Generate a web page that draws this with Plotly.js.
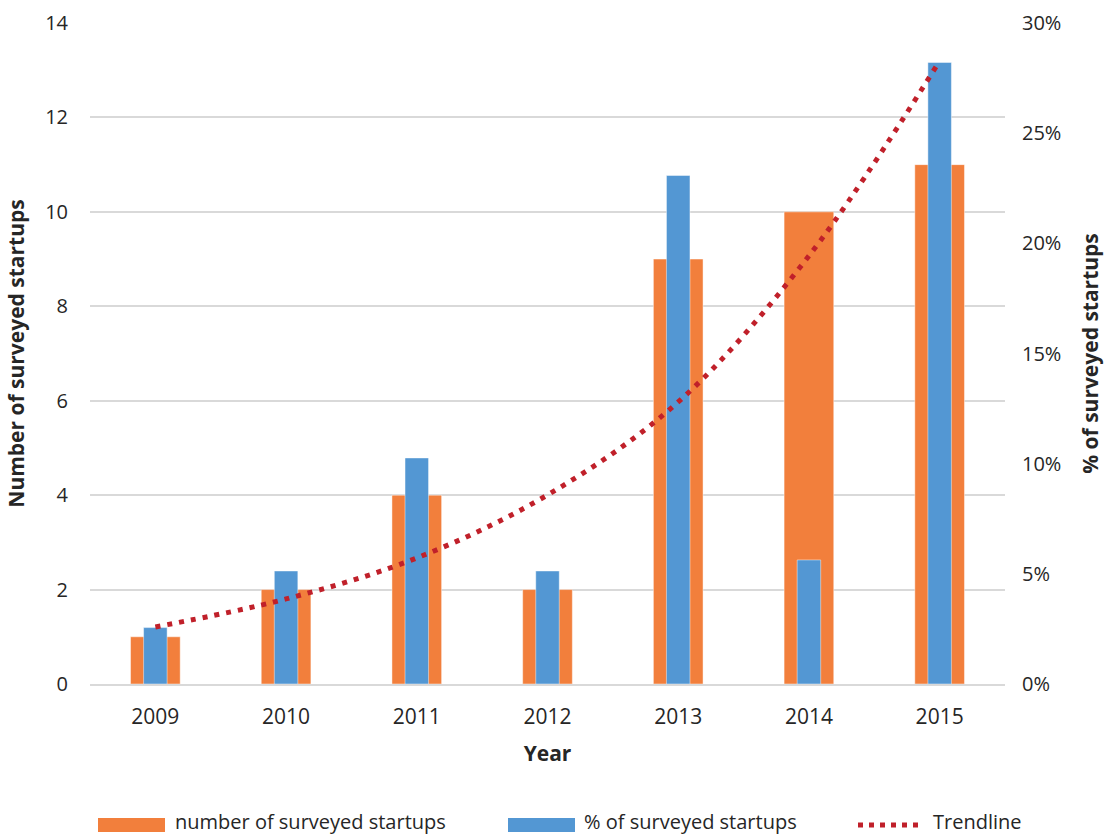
<!DOCTYPE html>
<html>
<head>
<meta charset="utf-8">
<script src="https://cdn.plot.ly/plotly-3.0.1.min.js"></script>
<style>html,body{margin:0;padding:0;background:#fff;}#chart{width:1108px;height:836px;}</style>
</head>
<body>
<div id="chart"></div>
<script>
// ---- data ----
const years = ["2009", "2010", "2011", "2012", "2013", "2014", "2015"];
const startupCounts = [1, 2, 4, 2, 9, 10, 11];
const startupShares = [2.56, 5.13, 10.26, 5.13, 23.08, 5.63, 28.21];   // percent
const trendShares = [2.59, 3.86, 5.72, 8.58, 12.8, 19.43, 28.28];      // percent
const leftTicks = [0, 2, 4, 6, 8, 10, 12, 14];
const rightTicks = [0, 5, 10, 15, 20, 25, 30];
const rightTickLabels = ["0%", "5%", "10%", "15%", "20%", "25%", "30%"];
const seriesNames = ["number of surveyed startups", "% of surveyed startups", "Trendline"];

// ---- styling ----
const ORANGE = "#F27F3C";
const BLUE = "#5397D3";
const RED = "#C0202A";
const GRID = "#D9D9D9";
const TXT = "#262626";
const FONT = "'Open Sans', 'Noto Sans', sans-serif";

const W = 1108, H = 836;
const M = {l: 90, r: 103, t: 23, b: 152};
const PW = W - M.l - M.r, PH = H - M.t - M.b;
const px = x => (x - M.l) / PW;
const py = y => (H - M.b - y) / PH;

const traces = [
  {
    type: "bar", x: years, y: startupCounts, name: seriesNames[0],
    width: 0.38, marker: {color: ORANGE, line: {color: "rgba(255,255,255,0.45)", width: 1}},
    xaxis: "x", yaxis: "y", showlegend: false, hoverinfo: "x+y"
  },
  {
    type: "bar", x: years, y: startupShares, name: seriesNames[1],
    width: 0.18, marker: {color: BLUE, line: {color: "rgba(255,255,255,0.45)", width: 1}},
    xaxis: "x", yaxis: "y2", showlegend: false, hoverinfo: "x+y"
  },
  {
    type: "scatter", mode: "lines", x: years, y: trendShares, name: seriesNames[2],
    line: {color: RED, width: 5, dash: "5px,7px", shape: "spline", smoothing: 1},
    xaxis: "x", yaxis: "y2", showlegend: false, hoverinfo: "skip"
  }
];

const legendY = 824;
const shapes = [
  {type: "rect", xref: "paper", yref: "paper", x0: px(98), x1: px(165), y0: py(832), y1: py(818),
   fillcolor: ORANGE, line: {width: 0}},
  {type: "rect", xref: "paper", yref: "paper", x0: px(508), x1: px(575), y0: py(832), y1: py(818),
   fillcolor: BLUE, line: {width: 0}},
  {type: "line", xref: "paper", yref: "paper", x0: px(858), x1: px(922), y0: py(legendY + 1), y1: py(legendY + 1),
   line: {color: RED, width: 5, dash: "5px,6px"}}
];
const annotations = [
  {text: seriesNames[0], x: px(173), xanchor: "left"},
  {text: seriesNames[1], x: px(582), xanchor: "left"},
  {text: seriesNames[2], x: px(931), xanchor: "left"}
].map(a => Object.assign(a, {xref: "paper", yref: "paper", y: py(legendY - 3), yanchor: "middle",
  showarrow: false, font: {family: FONT, size: 20, color: TXT}}));

const layout = {
  width: W, height: H,
  margin: M,
  paper_bgcolor: "#fff", plot_bgcolor: "#fff",
  barmode: "overlay",
  showlegend: false,
  font: {family: FONT, color: TXT},
  xaxis: {
    type: "category", range: [-0.5, 6.5],
    showgrid: false, zeroline: false,
    showline: true, linecolor: GRID, linewidth: 2,
    ticks: "", tickfont: {family: FONT, size: 21, color: TXT},
    ticklabelstandoff: 13,
    title: {text: "Year", font: {family: FONT, size: 21, color: TXT, weight: "bold"}, standoff: 17}
  },
  yaxis: {
    range: [0, 14], tickvals: leftTicks,
    showgrid: true, gridcolor: GRID, gridwidth: 2,
    zeroline: false, showline: false, ticks: "",
    tickfont: {family: FONT, size: 20, color: TXT},
    ticklabelstandoff: 21,
    title: {text: "Number of surveyed startups", font: {family: FONT, size: 21, color: TXT, weight: "bold"}, standoff: 14}
  },
  yaxis2: {
    overlaying: "y", side: "right",
    range: [0, 30], tickvals: rightTicks, ticktext: rightTickLabels,
    showgrid: false, zeroline: false, showline: false, ticks: "",
    tickfont: {family: FONT, size: 20, color: TXT},
    ticklabelstandoff: 16,
    title: {text: "% of surveyed startups", font: {family: FONT, size: 21, color: TXT, weight: "bold"}, standoff: 22}
  },
  shapes: shapes,
  annotations: annotations
};

Plotly.newPlot("chart", traces, layout, {staticPlot: true, displayModeBar: false});
</script>
</body>
</html>
